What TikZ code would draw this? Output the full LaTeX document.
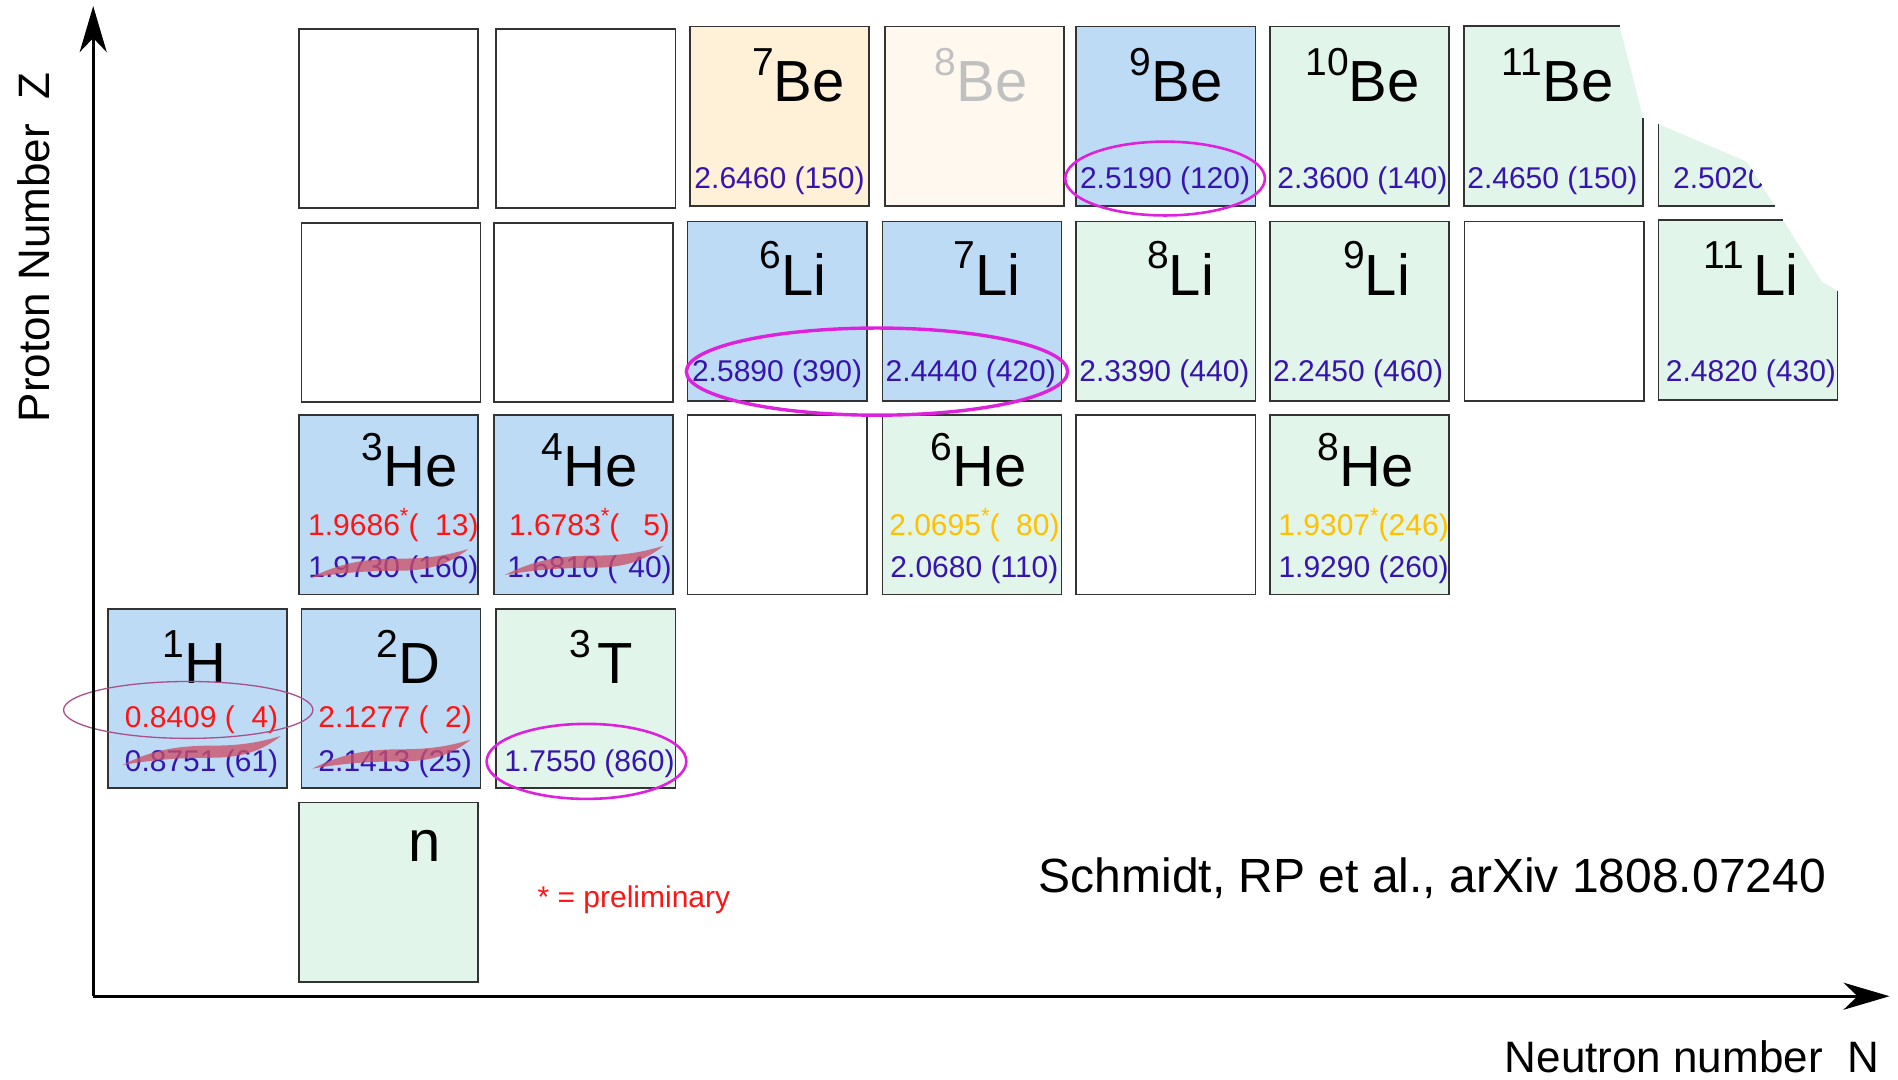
\documentclass[tikz,border=0pt]{standalone}
\usepackage{fontspec}
\setmainfont{Liberation Sans}
\usetikzlibrary{arrows.meta}
\definecolor{boxline}{HTML}{333333}
\definecolor{bluefill}{HTML}{BDDBF5}
\definecolor{greenfill}{HTML}{E2F5EB}
\definecolor{orangefill}{HTML}{FFF0D8}
\definecolor{palefill}{HTML}{FEF8EF}
\definecolor{numblue}{HTML}{3514B0}
\definecolor{numred}{HTML}{FF1414}
\definecolor{numgold}{HTML}{FFC000}
\definecolor{graytext}{HTML}{C0C0C0}
\definecolor{ringmag}{HTML}{DD22DD}
\definecolor{ringmauve}{HTML}{A8508A}
\definecolor{strikecol}{HTML}{CC5068}
\newcommand{\iso}[2]{\raisebox{26.5pt}{\fontsize{39}{39}\selectfont #1}#2}
\newcommand{\prel}{\raisebox{12pt}{\fontsize{22}{22}\selectfont *}}
\newcommand{\brush}[2]{\fill[strikecol, opacity=0.78, shift={(#1,#2)}] (0,1) .. controls (24,-11) and (44,-15) .. (74,-15) .. controls (99,-15) and (114,-18) .. (131,-23) .. controls (116,-11) and (99,-5) .. (74,-5) .. controls (44,-5) and (24,-3) .. (0,1) -- cycle;}
\begin{document}
\begin{tikzpicture}[x=1.2105pt,y=-1.2105pt,
  cell/.style={draw=boxline, line width=1.6pt, minimum width=179.2pt, minimum height=179.2pt, anchor=north west, inner sep=0pt, outer sep=0pt},
  elem/.style={anchor=base east, inner sep=0pt, font=\fontsize{58}{58}\selectfont},
  num/.style={anchor=base, inner sep=0pt, font=\fontsize{30}{30}\selectfont, text=numblue},
  rednum/.style={num, text=numred},
  goldnum/.style={num, text=numgold},
  axis/.style={line width=3pt, -{Stealth[length=46pt,width=27pt,inset=14pt]}},
  ring/.style={draw=ringmag, line width=2.6pt},
  edge/.style={draw=boxline, line width=1.6pt}]
\useasboundingbox (0,0) rectangle (1568,892);
\fill[white] (0,0) rectangle (1568,892);

% ---------- Be row ----------
\node[cell] (e1) at (247,24) {};
\node[cell] (e2) at (410,24) {};
\node[cell, fill=orangefill] (Be7) at (570,22) {};
\node[cell, fill=palefill] (Be8) at (731,22) {};
\node[cell, fill=bluefill] (Be9) at (889,22) {};
\node[cell, fill=greenfill] (Be10) at (1049,22) {};
\fill[greenfill] (1209.5,21.5) -- (1338,21.5) -- (1357.5,97.7) -- (1357.5,170) -- (1209.5,170) -- cycle;
\draw[edge] (1338,21.5) -- (1209.5,21.5) -- (1209.5,170) -- (1357.5,170) -- (1357.5,97.7);
\fill[greenfill] (1370,102.4) -- (1443,133.6) -- (1466.4,170) -- (1370,170) -- cycle;
\draw[edge] (1370,102.4) -- (1370,170) -- (1466.4,170);

\node[elem] (Be7l) at (698,84) {\iso{7}{Be}};
\node[elem, text=graytext] (Be8l) at (849,84) {\iso{8}{Be}};
\node[elem] (Be9l) at (1010,84) {\iso{9}{Be}};
\node[elem] (Be10l) at (1173,84) {\iso{10}{Be}};
\node[elem] (Be11l) at (1333,84) {\iso{11}{Be}};

\node[num] (Be7n) at (644,155.6) {2.6460 (150)};
\node[num] (Be9n) at (962.5,155.6) {2.5190 (120)};
\node[num] (Be10n) at (1125.5,155.6) {2.3600 (140)};
\node[num] (Be11n) at (1282.5,155.6) {2.4650 (150)};
\begin{scope}
\clip (1370,102.4) -- (1443,133.6) -- (1466.4,170) -- (1370,170) -- cycle;
\node[num, anchor=base west] (Be12n) at (1382,155.6) {2.5020};
\end{scope}

% ---------- Li row ----------
\node[cell] (e3) at (249,184) {};
\node[cell] (e4) at (408,184) {};
\node[cell, fill=bluefill] (Li6) at (568,183) {};
\node[cell, fill=bluefill] (Li7) at (729,183) {};
\node[cell, fill=greenfill] (Li8) at (889,183) {};
\node[cell, fill=greenfill] (Li9) at (1049,183) {};
\node[cell] (e5) at (1210,183) {};
\fill[greenfill] (1370,181.7) -- (1473,181.7) -- (1505,232.7) -- (1518,240.1) -- (1518,330.4) -- (1370,330.4) -- cycle;
\draw[edge] (1473,181.7) -- (1370,181.7) -- (1370,330.4) -- (1518,330.4) -- (1518,240.1);

\node[elem] (Li6l) at (683,244) {\iso{6}{Li}};
\node[elem] (Li7l) at (843,244) {\iso{7}{Li}};
\node[elem] (Li8l) at (1003,244) {\iso{8}{Li}};
\node[elem] (Li9l) at (1165,244) {\iso{9}{Li}};
\node[elem] (Li11l) at (1486,244) {\iso{11}{\hspace{9pt}Li}};

\node[num] (Li6n) at (642,315.3) {2.5890 (390)};
\node[num] (Li7n) at (802,315.3) {2.4440 (420)};
\node[num] (Li8n) at (962,315.3) {2.3390 (440)};
\node[num] (Li9n) at (1122,315.3) {2.2450 (460)};
\node[num] (Li11n) at (1446.5,315.3) {2.4820 (430)};

% ---------- He row ----------
\node[cell, fill=bluefill] (He3) at (247,343) {};
\node[cell, fill=bluefill] (He4) at (408,343) {};
\node[cell] (e6) at (568,343) {};
\node[cell, fill=greenfill] (He6) at (729,343) {};
\node[cell] (e7) at (889,343) {};
\node[cell, fill=greenfill] (He8) at (1049,343) {};

\node[elem] (He3l) at (378,402) {\iso{3}{He}};
\node[elem] (He4l) at (527,402) {\iso{4}{He}};
\node[elem] (He6l) at (848,402) {\iso{6}{He}};
\node[elem] (He8l) at (1168,402) {\iso{8}{He}};

\node[rednum] (He3r) at (325,442) {1.9686\prel(\hphantom{0}13)};
\node[rednum] (He4r) at (487,442) {1.6783\prel(\hspace{24pt}5)};
\node[goldnum] (He6y) at (805,442) {2.0695\prel(\hphantom{0}80)};
\node[goldnum] (He8y) at (1126.5,442) {1.9307\prel(246)};

\node[num] (He3b) at (325,477) {1.9730 (160)};
\node[num] (He4b) at (487,477) {1.6810 (\hspace{11pt}40)};
\node[num] (He6b) at (805,477) {2.0680 (110)};
\node[num] (He8b) at (1126.5,477) {1.9290 (260)};

% ---------- H row ----------
\node[cell, fill=bluefill] (H1) at (89,503) {};
\node[cell, fill=bluefill] (H2) at (249,503) {};
\node[cell, fill=greenfill] (H3) at (410,503) {};

\node[elem] (H1l) at (187,565) {\iso{1}{H}};
\node[elem] (H2l) at (364,565) {\iso{2}{D}};
\node[elem] (H3l) at (523,565) {\iso{3}{\hspace{6pt}T}};

\node[rednum] (H1r) at (166.5,601) {0.8409 (\hphantom{0}4)};
\node[rednum] (H2r) at (326.5,601) {2.1277 (\hphantom{0}2)};
\node[num] (H1b) at (166.5,637) {0.8751 (61)};
\node[num] (H2b) at (326.5,637) {2.1413 (25)};
\node[num] (H3b) at (487,637) {1.7550 (860)};

% ---------- neutron ----------
\node[cell, fill=greenfill] (n) at (247,663) {};
\node[elem] (nl) at (364,712) {n};

% ---------- strike marks ----------
\brush{256}{476.5}
\brush{417}{474}
\brush{101}{631}
\brush{258}{634}

% ---------- ellipses ----------
\draw[ring] (962.5,147.5) ellipse [x radius=82.5, y radius=30.5];
\draw[ring, line width=3.4pt] (724.5,307) ellipse [x radius=157.5, y radius=36];
\draw[ring] (484.5,629) ellipse [x radius=82.5, y radius=31];
\draw[draw=ringmauve, line width=1.3pt] (155.5,586.5) ellipse [x radius=103, y radius=23.5];

% ---------- axes ----------
\coordinate (O) at (77,823);
\coordinate (ytip) at (77,5);
\coordinate (xtip) at (1561,823);
\draw[axis] (O) -- (ytip);
\draw[axis] (O) -- (xtip);

\node[rotate=90, anchor=base west, inner sep=0pt, font=\fontsize{44}{44}\selectfont] (ylab) at (41,349) {Proton Number\ \ Z};
\node[anchor=base west, inner sep=0pt, font=\fontsize{44}{44}\selectfont] (xlab) at (1243,886) {Neutron number\ \ N};
\node[anchor=base west, inner sep=0pt, font=\fontsize{48}{48}\selectfont] (ref) at (858,737) {Schmidt, RP et al., arXiv 1808.07240};
\node[anchor=base west, inner sep=0pt, font=\fontsize{30}{30}\selectfont, text=numred] (legend) at (444,750) {* = preliminary};
\end{tikzpicture}
\end{document}
